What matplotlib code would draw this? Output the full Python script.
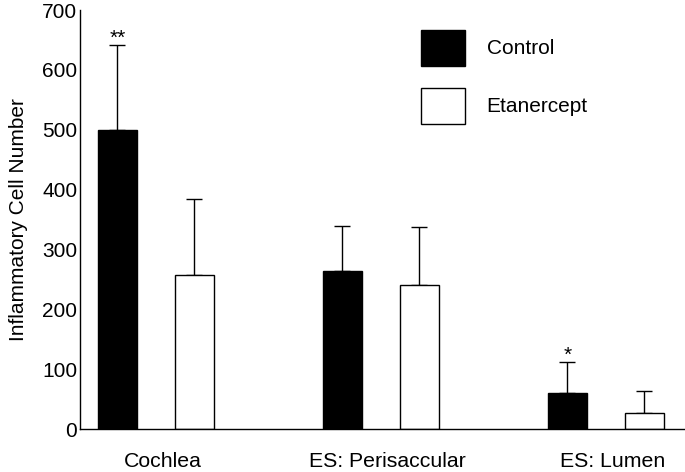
#!/usr/bin/env python3
"""Inflammatory cell counts, control vs etanercept, with SD error bars."""

import matplotlib

matplotlib.use("Agg")
import matplotlib.pyplot as plt
import numpy as np

groups = ["Cochlea", "ES: Perisaccular", "ES: Lumen"]
control = [500, 264, 60]
control_err = [141, 75, 52]
etanercept = [257, 240, 27]
etanercept_err = [128, 97, 36]
signif = ["**", "", "*"]

plt.rcParams["font.family"] = ["Liberation Sans", "DejaVu Sans"]
plt.rcParams["font.size"] = 15

fig = plt.figure(figsize=(6.85, 4.72), dpi=100)
ax = fig.add_axes([0.1168, 0.0911, 0.8832, 0.8877])

x = np.arange(len(groups))
offset = 0.171
width = 0.173

ax.bar(x - offset, control, width, color="black", edgecolor="black", linewidth=1, label="Control", zorder=2)
ax.bar(x + offset, etanercept, width, color="white", edgecolor="black", linewidth=1, label="Etanercept", zorder=2)

# upward-only error bars
zeros = np.zeros(len(groups))
ax.errorbar(x - offset, control, yerr=[zeros, control_err], fmt="none", ecolor="black",
            elinewidth=1, capsize=6, capthick=1, zorder=1)
ax.errorbar(x + offset, etanercept, yerr=[zeros, etanercept_err], fmt="none", ecolor="black",
            elinewidth=1, capsize=6, capthick=1, zorder=1)

for xi, v, e, s in zip(x - offset, control, control_err, signif):
    if s:
        ax.annotate(s, (xi, v + e), xytext=(0, -2), textcoords="offset points",
                    ha="center", va="bottom", fontsize=15)

ax.set_xlim(-0.337, 2.352)
ax.set_ylim(0, 700)
ax.set_yticks(range(0, 701, 100))
ax.set_xticks(x + 0.03)
ax.set_xticklabels(groups, fontsize=15.3)
ax.tick_params(axis="x", length=0, pad=16.5)
ax.tick_params(axis="y", length=0, pad=2)
ax.set_ylabel("Inflammatory Cell Number", labelpad=10)

for side in ["top", "right"]:
    ax.spines[side].set_visible(False)
ax.spines["left"].set_linewidth(1)
ax.spines["bottom"].set_linewidth(1)

ax.legend(loc="upper left", bbox_to_anchor=(0.5636, 0.953), frameon=False,
          handlelength=2.1, handleheight=2.3, labelspacing=1.05, handletextpad=1.05,
          borderpad=0, borderaxespad=0)

plt.savefig("out.png", dpi=100)
plt.close()
